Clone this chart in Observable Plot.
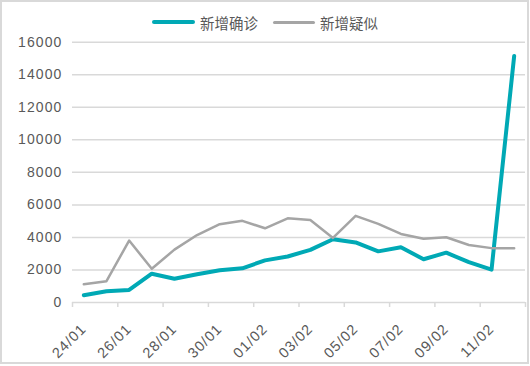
<!DOCTYPE html>
<html>
<head>
<meta charset="utf-8">
<script src="https://cdn.jsdelivr.net/npm/d3@7"></script>
<script src="https://cdn.jsdelivr.net/npm/@observablehq/plot@0.6"></script>
<style>
  html, body { margin: 0; padding: 0; background: #fff; }
  #wrap { position: relative; width: 530px; height: 366px; overflow: hidden; font-family: "Liberation Sans", Arial, sans-serif; }
  #frame { position: absolute; left: 0; top: 0; width: 529px; height: 364px; box-sizing: border-box; border: 2px solid #d9d9d9; pointer-events: none; }
  #chart { position: absolute; left: 0; top: 0; }
  .leg { position: absolute; top: 12px; height: 20px; display: flex; align-items: center; font-family: "Noto Sans CJK SC", sans-serif; font-size: 14.5px; color: #595959; }
  .leg .sw { display: inline-block; margin-right: 5px; border-radius: 2px; }
  svg g[aria-label="y-axis tick label"] text { letter-spacing: 1.1px; }
  svg g[aria-label="x-axis tick label"] text { letter-spacing: 1px; }
</style>
</head>
<body>
<div id="wrap">
  <div id="chart"></div>
  <div id="legend"></div>
  <div id="frame"></div>
</div>
<script>
const dates = ["24/01","25/01","26/01","27/01","28/01","29/01","30/01","31/01","01/02","02/02","03/02","04/02","05/02","06/02","07/02","08/02","09/02","10/02","11/02","12/02"];
const confirmed = [444, 688, 769, 1771, 1459, 1737, 1982, 2102, 2590, 2829, 3235, 3887, 3694, 3143, 3399, 2656, 3062, 2478, 2015, 15152];
const suspected = [1118, 1309, 3806, 2077, 3248, 4148, 4812, 5019, 4562, 5173, 5072, 3971, 5328, 4833, 4214, 3916, 4008, 3536, 3342, 3342];
const seriesNames = ["新增确诊", "新增疑似"];
const yTicks = [0, 2000, 4000, 6000, 8000, 10000, 12000, 14000, 16000];

const colors = ["#00a9b5", "#a5a5a5"];
const widths = [4, 2.5];

const n = dates.length;
const rows = dates.map((d, i) => ({pos: i + 0.5, date: d, confirmed: confirmed[i], suspected: suspected[i]}));
const labelPos = dates.map((d, i) => i).filter(i => i % 2 === 0).map(i => i + 0.5);
const boundaryTicks = d3.range(0, n + 1, 2);

const chart = Plot.plot({
  width: 530,
  height: 366,
  marginLeft: 72,
  marginRight: 5,
  marginTop: 41.7,
  marginBottom: 64,
  x: {domain: [0, n]},
  y: {domain: [0, 16000]},
  style: {fontFamily: "'Liberation Sans', Arial, sans-serif", fontSize: "14px", color: "#595959", background: "transparent", overflow: "visible"},
  marks: [
    Plot.gridY(yTicks.filter(t => t > 0), {stroke: "#d9d9d9", strokeOpacity: 1, strokeWidth: 1.5}),
    Plot.axisY(yTicks, {tickSize: 0, tickPadding: 10, label: null, fill: "#595959", fontSize: 14, tickFormat: d => String(d)}),
    Plot.ruleY([0], {stroke: "#d9d9d9", strokeWidth: 1.5}),
    Plot.axisX(boundaryTicks, {tickSize: 5, stroke: "#d9d9d9", strokeWidth: 1.5, strokeOpacity: 1, tickFormat: () => "", label: null}),
    Plot.axisX(labelPos, {tickSize: 0, tickPadding: 24, tickRotate: -45, tickFormat: d => dates[Math.round(d - 0.5)], label: null, fill: "#595959", fontSize: 14.5}),
    Plot.line(rows, {x: "pos", y: "confirmed", stroke: colors[0], strokeWidth: widths[0], strokeLinejoin: "round", strokeLinecap: "round"}),
    Plot.line(rows, {x: "pos", y: "suspected", stroke: colors[1], strokeWidth: widths[1], strokeLinejoin: "round", strokeLinecap: "round"})
  ]
});
document.getElementById("chart").appendChild(chart);

const legendPos = [{left: 152, sw: 43, h: 4.5}, {left: 273, sw: 42, h: 3}];
const legend = document.getElementById("legend");
seriesNames.forEach((name, k) => {
  const item = document.createElement("div");
  item.className = "leg";
  item.style.left = legendPos[k].left + "px";
  const sw = document.createElement("span");
  sw.className = "sw";
  sw.style.width = legendPos[k].sw + "px";
  sw.style.height = legendPos[k].h + "px";
  sw.style.background = colors[k];
  item.appendChild(sw);
  const t = document.createElement("span");
  t.textContent = name;
  item.appendChild(t);
  legend.appendChild(item);
});
</script>
</body>
</html>
